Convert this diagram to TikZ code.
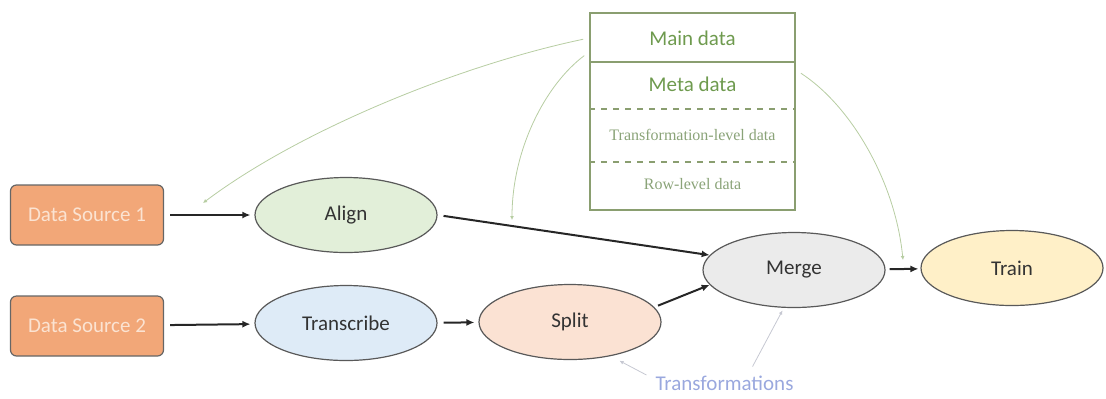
\documentclass[tikz,border=0pt]{standalone}
\usepackage{fontspec}
\setmainfont{Carlito}
\newfontfamily\rowfont{Liberation Serif}
\usetikzlibrary{arrows.meta,shapes.geometric,calc}
\definecolor{srcfill}{HTML}{F2A778}
\definecolor{srctext}{HTML}{FBE3D2}
\definecolor{alignfill}{HTML}{E2EFD9}
\definecolor{transfill}{HTML}{DEEBF7}
\definecolor{splitfill}{HTML}{FBE2D3}
\definecolor{mergefill}{HTML}{EBEBEB}
\definecolor{trainfill}{HTML}{FFF0C8}
\definecolor{tblgreen}{HTML}{6E9A4E}
\definecolor{tblline}{HTML}{8A9E70}
\definecolor{hintgreen}{HTML}{B7CDA2}
\definecolor{hintgray}{HTML}{C6C8D2}
\definecolor{trftext}{HTML}{9AA8DE}
\begin{document}
\begin{tikzpicture}[x=0.5pt,y=-0.5pt,
    src/.style={rectangle, draw=black!60, line width=0.6pt, fill=srcfill, rounded corners=3pt, minimum width=76.5pt, minimum height=30pt, text=srctext, font=\fontsize{10.5}{12}\selectfont},
    stage/.style={ellipse, draw=black!65, line width=0.6pt, minimum width=91pt, minimum height=37.5pt, inner sep=0pt, text=black!80, font=\fontsize{10.5}{12}\selectfont},
    row/.style={text=tblgreen, font=\fontsize{10.5}{12}\selectfont},
    subrow/.style={text=tblgreen!80!black!70, font=\rowfont\fontsize{8}{10}\selectfont},
    flow/.style={-{Latex[length=4pt,width=3.5pt]}, line width=1pt, black!85},
    hint/.style={-{Latex[length=2pt,width=2pt]}, line width=0.4pt, hintgreen},
    note/.style={-{Latex[length=2pt,width=2pt]}, line width=0.4pt, hintgray}
]
\useasboundingbox (0,0) rectangle (1106,398);

\node[src] (ds1) at (87,215) {Data Source 1};
\node[src] (ds2) at (87,326) {Data Source 2};
\node[stage, fill=alignfill] (align) at (346,215) {Align};
\node[stage, fill=transfill] (transcribe) at (346,323) {Transcribe};
\node[stage, fill=splitfill] (split) at (570,322) {Split};
\node[stage, fill=mergefill] (merge) at (794,270) {Merge};
\node[stage, fill=trainfill] (train) at (1012,268) {Train};

\node[draw=tblline, line width=0.9pt, minimum width=102.5pt, minimum height=98.5pt, inner sep=0pt] (tbl) at (692.5,111.5) {};
\node[row] (main) at (692.5,38) {Main data};
\node[row] (meta) at (692.5,84) {Meta data};
\node[subrow] (tlevel) at (692.5,135) {Transformation-level data};
\node[subrow] (rlevel) at (692.5,184) {Row-level data};
\draw[tblline, line width=0.8pt] (tbl.west |- 0,62) -- (tbl.east |- 0,62);
\draw[tblline, line width=0.6pt, dashed] (tbl.west |- 0,109) -- (tbl.east |- 0,109);
\draw[tblline, line width=0.6pt, dashed] (tbl.west |- 0,162) -- (tbl.east |- 0,162);

\node[text=trftext, font=\fontsize{10.5}{12}\selectfont] (trf) at (724.5,383) {Transformations};

\draw[flow, shorten <=3pt, shorten >=2pt] (ds1) -- (align);
\draw[flow, shorten <=3pt, shorten >=2pt] (ds2) -- (transcribe);
\draw[flow, shorten <=3pt, shorten >=2pt] (transcribe) -- (split);
\draw[flow, shorten <=3pt] (align.east) -- (merge.170);
\draw[flow, shorten <=2pt] (split.10) -- (merge.190);
\draw[flow, shorten <=2pt, shorten >=1pt] (merge) -- (train);

\coordinate (mainl) at (tbl.west |- main);
\coordinate (metal) at (tbl.west |- 0,52);
\coordinate (metar) at (tbl.east |- 0,70);
\coordinate (alignin) at (203,203);
\coordinate (splitin) at (512,220);
\coordinate (trainin) at (903,260);
\draw[hint, shorten <=3pt] (mainl) .. controls (460,65) and (300,130) .. (alignin);
\draw[hint, shorten <=3pt] (metal) .. controls (545,85) and (512,150) .. (splitin);
\draw[hint, shorten <=3pt] (metar) .. controls (850,105) and (895,180) .. (trainin);

\draw[note, shorten >=5pt] ($(trf.west)+(-2,-8)$) -- (split.-40);
\draw[note, shorten >=1.5pt] ($(trf.north)+(28,-2)$) -- (merge.255);
\end{tikzpicture}
\end{document}
